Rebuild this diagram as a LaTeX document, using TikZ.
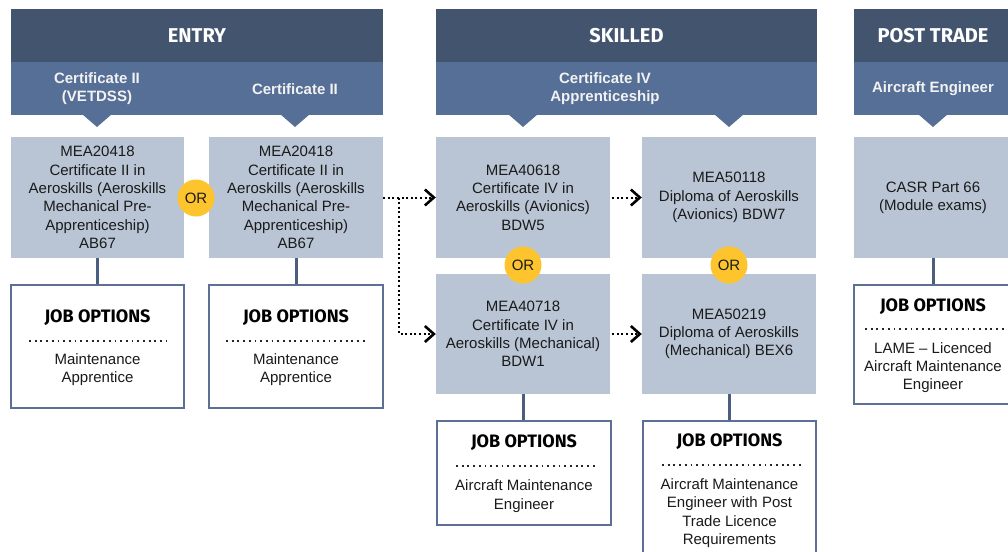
\documentclass[tikz,border=0pt]{standalone}
\usepackage{fontspec}
\setmainfont{Liberation Sans}
\newfontfamily\hdfont{Fira Sans}
\usetikzlibrary{arrows.meta}
\definecolor{hdark}{HTML}{43546F}
\definecolor{hlight}{HTML}{566F96}
\definecolor{boxc}{HTML}{B9C5D4}
\definecolor{yel}{HTML}{FDC42D}
\definecolor{jobc}{HTML}{5C7096}
\definecolor{connc}{HTML}{4B5E80}
\definecolor{txt}{HTML}{1A1A1A}
\newcommand{\bodyfnt}{\fontsize{15}{18.3}\selectfont}
\begin{document}
\begin{tikzpicture}[x=1pt,y=-1pt,
  hdband/.style={fill=hdark, minimum height=53pt, inner sep=0pt, text=white, font=\hdfont\bfseries\fontsize{20}{22}\selectfont},
  hlband/.style={fill=hlight, minimum height=53pt, inner sep=0pt},
  htext/.style={text=white!95!black, align=center, inner sep=0pt, font=\bfseries\fontsize{15}{18}\selectfont},
  cbox/.style={fill=boxc, minimum width=174pt, minimum height=121pt, inner sep=0pt, align=center, text=txt, font=\bodyfnt},
  jobbox/.style={draw=jobc, line width=2pt, fill=white, inner sep=0pt},
  jobtitle/.style={inner sep=0pt, text=black, font=\hdfont\bfseries\fontsize{18}{20}\selectfont},
  jobtext/.style={inner sep=0pt, align=center, text=txt, font=\bodyfnt},
  dotline/.style={line width=2pt, dash pattern=on 1.8pt off 3.9pt, black!85},
  orc/.style={circle, fill=yel, minimum size=37pt, inner sep=0pt, text=txt, font=\fontsize{15}{18}\selectfont},
  conn/.style={draw=connc, line width=3pt},
  dotarrow/.style={draw=black, line width=2pt, dash pattern=on 2pt off 2.6pt, -{Straight Barb[length=9pt,width=16pt,line width=2.6pt]}}
]
\clip (0,0) rectangle (1008,551);
\fill[white] (0,0) rectangle (1008,551);

% header bands
\node[hdband, minimum width=372pt] (entryH) at (197,35.5) {ENTRY};
\node[hlband, minimum width=372pt] (entryL) at (197,88.5) {};
\node[hdband, minimum width=381pt] (skillH) at (626.5,35.5) {SKILLED};
\node[hlband, minimum width=381pt] (skillL) at (626.5,88.5) {};
\node[hdband, minimum width=158pt] (postH) at (933,35.5) {POST TRADE};
\node[hlband, minimum width=158pt] (postL) at (933,88.5) {};
\foreach \cx in {97,295,523,729,933}
  \fill[hlight] (\cx-15,114) -- (\cx+15,114) -- (\cx,127) -- cycle;

\node[htext] (eh1) at (97,89) {Certificate II\\(VETDSS)};
\node[htext] (eh2) at (295,89) {Certificate II};
\node[htext] (sh1) at (605,89) {Certificate IV\\Apprenticeship};
\node[htext] (ph1) at (933,89) {Aircraft Engineer};

% qualification boxes
\node[cbox, minimum width=173pt] (e1) at (97.5,197.5) {MEA20418\\Certificate II in\\Aeroskills (Aeroskills\\Mechanical Pre-\\Apprenticeship)\\AB67};
\node[cbox] (e2) at (296,197.5) {MEA20418\\Certificate II in\\Aeroskills (Aeroskills\\Mechanical Pre-\\Apprenticeship)\\AB67};
\node[cbox] (s1) at (523,197.5) {MEA40618\\Certificate IV in\\Aeroskills (Avionics)\\BDW5};
\node[cbox] (s2) at (729,197.5) {MEA50118\\Diploma of Aeroskills\\(Avionics) BDW7};
\node[cbox, minimum height=120pt] (s3) at (523,334) {MEA40718\\Certificate IV in\\Aeroskills (Mechanical)\\BDW1};
\node[cbox, minimum height=120pt] (s4) at (729,334) {MEA50219\\Diploma of Aeroskills\\(Mechanical) BEX6};
\node[cbox, minimum width=158pt] (p1) at (933,197.5) {CASR Part 66\\(Module exams)};

% OR circles
\node[orc] (or1) at (196,198) {OR};
\node[orc] (or2) at (523,265) {OR};
\node[orc] (or3) at (729,265) {OR};

% job boxes
\node[jobbox, minimum width=173pt, minimum height=123pt] (j1) at (97.5,346.5) {};
\node[jobbox, minimum width=174pt, minimum height=123pt] (j2) at (296,346.5) {};
\node[jobbox, minimum width=174pt, minimum height=104pt] (j3) at (524,473) {};
\node[jobbox, minimum width=173pt, minimum height=148pt] (j4) at (729.5,495) {};
\node[jobbox, minimum width=158pt, minimum height=119pt] (j5) at (933,344.5) {};

% connectors
\draw[conn] (e1.south) -- (j1.north);
\draw[conn] (e2.south) -- (j2.north);
\draw[conn] (s3.south) -- (s3.south |- j3.north);
\draw[conn] (s4.south) -- (s4.south |- j4.north);
\draw[conn] (p1.south) -- (p1.south |- j5.north);

% job box contents
\node[jobtitle] (j1t) at (97.5,318) {JOB OPTIONS};
\draw[dotline] (29,341) -- (167,341);
\node[jobtext] (j1x) at (97.5,369.5) {Maintenance\\Apprentice};
\node[jobtitle] (j2t) at (296,318) {JOB OPTIONS};
\draw[dotline] (226,341) -- (365,341);
\node[jobtext] (j2x) at (296,369.5) {Maintenance\\Apprentice};
\node[jobtitle] (j3t) at (524,443) {JOB OPTIONS};
\draw[dotline] (456,466) -- (595,466);
\node[jobtext] (j3x) at (524,496) {Aircraft Maintenance\\Engineer};
\node[jobtitle] (j4t) at (729.5,442) {JOB OPTIONS};
\draw[dotline] (662,465) -- (801,465);
\node[jobtext] (j4x) at (729.5,513) {Aircraft Maintenance\\Engineer with Post\\Trade Licence\\Requirements};
\node[jobtitle] (j5t) at (933,307) {JOB OPTIONS};
\draw[dotline] (865,329) -- (1004,329);
\node[jobtext] (j5x) at (933,367.5) {LAME -- Licenced\\Aircraft Maintenance\\Engineer};

% dotted arrows
\coordinate (br) at (399,197.5);
\draw[dotarrow] (e2.east) -- (s1.west);
\draw[dotarrow] (br) |- (s3.west);
\draw[dotarrow] ([xshift=2pt]s1.east) -- (s2.west);
\draw[dotarrow] ([xshift=2pt]s3.east) -- (s4.west);
\end{tikzpicture}
\end{document}
